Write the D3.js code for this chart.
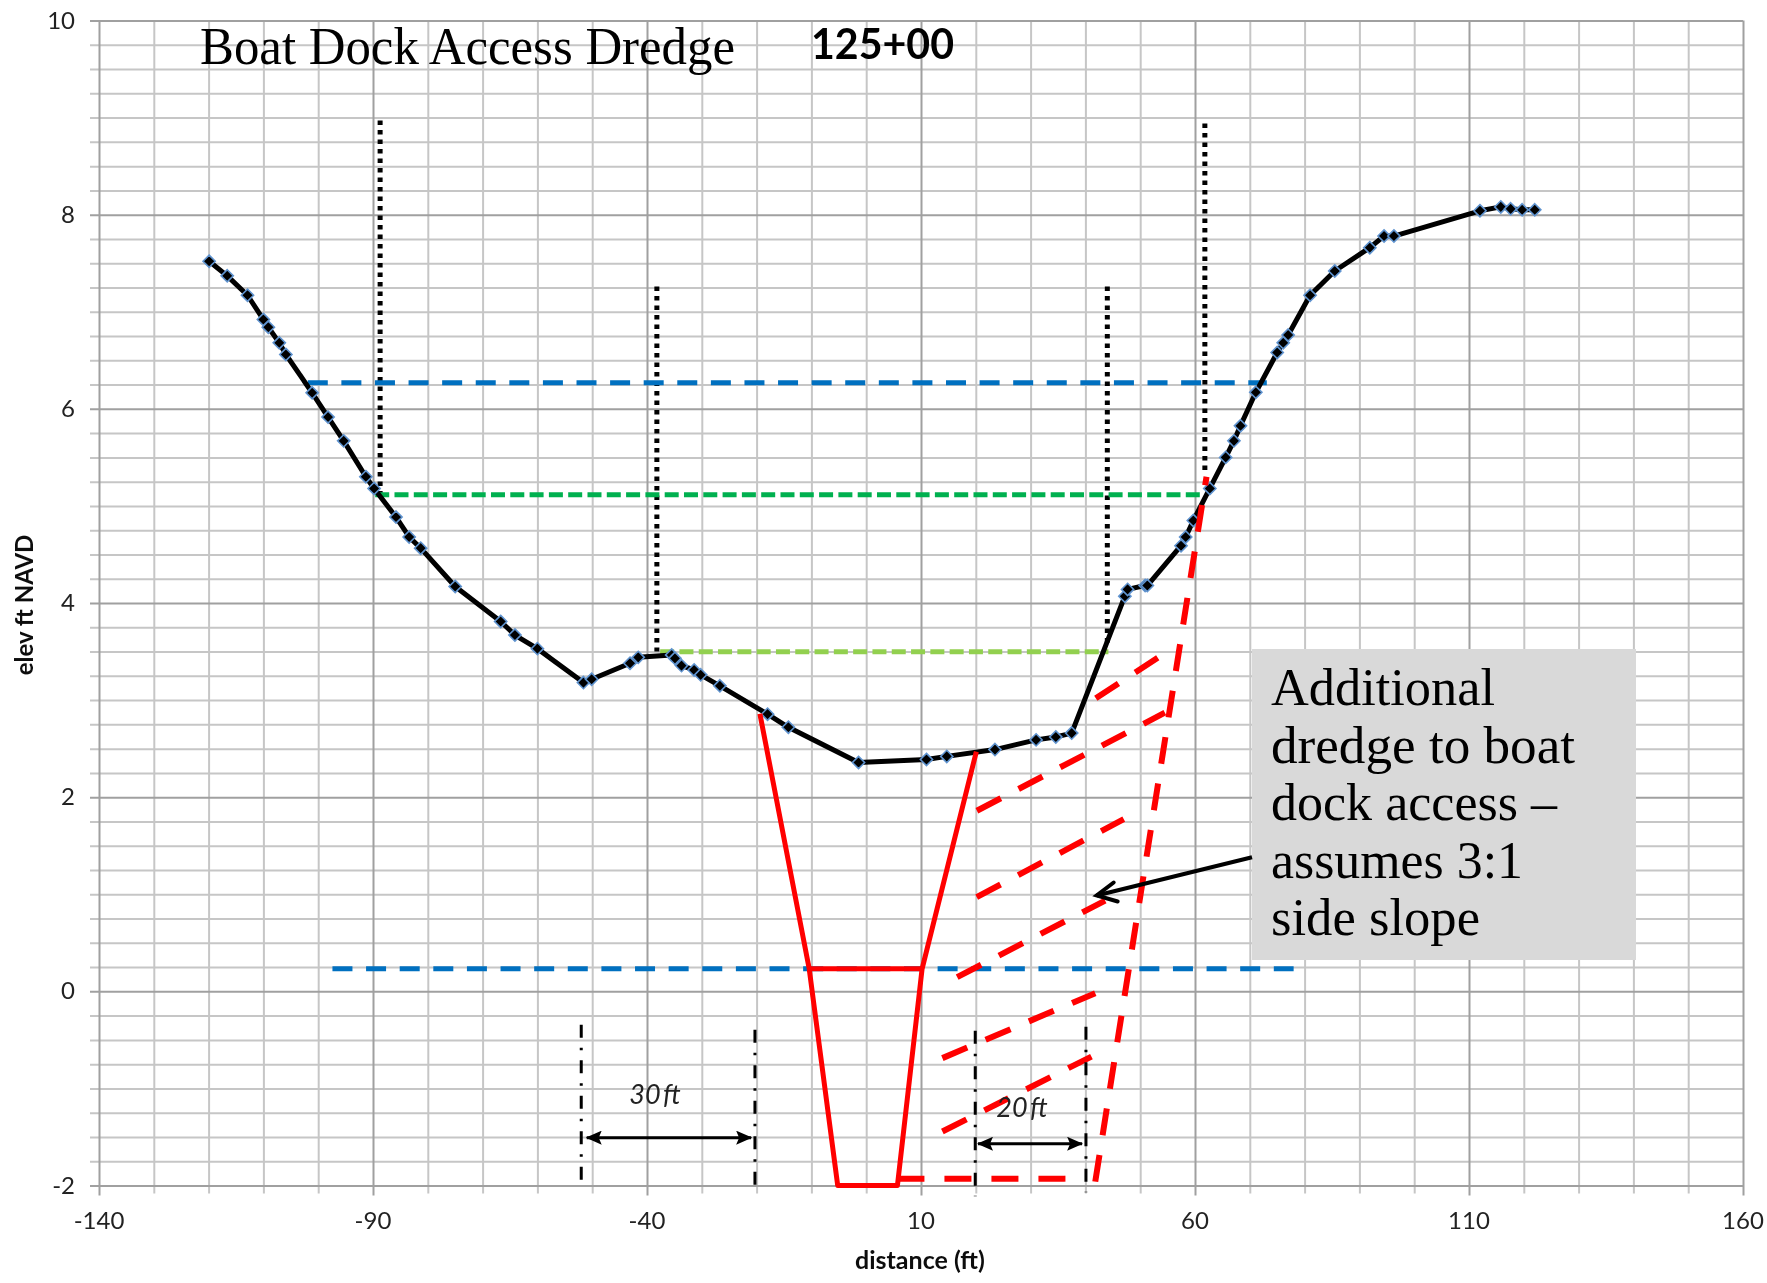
<!DOCTYPE html>
<html><head><meta charset="utf-8">
<script src="https://cdn.jsdelivr.net/npm/d3@7"></script>
<style>html,body{margin:0;padding:0;background:#fff}svg{display:block}</style>
</head><body><svg id="c" width="1767" height="1283"></svg>
<script>
const xMajor=[-140,-90,-40,10,60,110,160];
const xMinor=[-130,-120,-110,-100,-80,-70,-60,-50,-30,-20,-10,0,20,30,40,50,70,80,90,100,120,130,140,150];
const yMajor=[-2,0,2,4,6,8,10];
const yMinor=[-1.75,-1.5,-1.25,-1,-.75,-.5,-.25,.25,.5,.75,1,1.25,1.5,1.75,2.25,2.5,2.75,3,3.25,3.5,3.75,4.25,4.5,4.75,5,5.25,5.5,5.75,6.25,6.5,6.75,7,7.25,7.5,7.75,8.25,8.5,8.75,9,9.25,9.5,9.75];
const profileX=[-119.9,-116.6,-112.9,-110,-109.1,-107.1,-105.9,-101.1,-98.2,-95.35,-91.3,-89.8,-85.8,-83.4,-81.3,-75,-66.7,-64.1,-60,-51.6,-50.1,-43.1,-41.6,-35.5,-34.9,-33.7,-31.4,-30.2,-26.7,-18,-14.2,-1.4,11,14.7,23.5,31,34.6,37.5,47.2,47.7,50.9,51.3,57.45,58.3,59.7,62.7,65.6,67.1,68.3,71.1,75,76.1,77,81,85.5,91.9,94.5,96.3,112,115.8,117.6,119.7,122];
const profileY=[7.52,7.37,7.17,6.92,6.84,6.68,6.56,6.165,5.915,5.67,5.3,5.18,4.885,4.68,4.565,4.17,3.81,3.67,3.53,3.18,3.215,3.38,3.44,3.465,3.43,3.355,3.31,3.26,3.147,2.855,2.72,2.357,2.388,2.42,2.49,2.59,2.62,2.66,4.07,4.14,4.18,4.18,4.59,4.68,4.85,5.18,5.5,5.67,5.825,6.17,6.58,6.68,6.76,7.17,7.42,7.66,7.78,7.78,8.04,8.08,8.06,8.05,8.05];
const channelX=[-19.4,-10.4,-5.2,5.7,10.2,20.1];
const channelY=[2.86,0.232,-2,-2,0.232,2.47];
const channelFlatX=[-10.4,10.2], channelFlatY=[0.232,0.232];
const upperBlueX=[-101.9,73.1], upperBlueY=[6.268,6.268];
const lowerBlueX=[-97.4,78], lowerBlueY=[0.232,0.232];
const greenX=[-89.6,61.8], greenY=[5.114,5.114];
const limeX=[-37.6,44.2], limeY=[3.497,3.497];
const dottedLines=[[-88.7,8.97,5.12],[-38.2,7.26,3.5],[44,7.26,3.55],[61.8,8.94,5.32]];
const dashedRed=[[5.7,-1.93,36.6,-1.93],[41.8,-1.96,62.1,5.3],[41.9,3.02,53.2,3.435],[20.2,1.86,54.5,2.87],[20.16,.97,47,1.774],[16.6,.146,43.6,.935],[13.9,-.688,41.8,-.019],[13.9,-1.444,41.1,-.672]];
const dimensionLines=[[-52,-.345,-2.04],[-20.3,-.395,-2.09],[19.9,-.405,-2.11],[40.1,-.365,-2.07]];
const spanArrows=[[-51,-21,-1.507],[20.4,39.4,-1.57]];
const calloutLines=["Additional","dredge to boat","dock access –","assumes 3:1","side slope"];
const calloutTip=[42.06,0.987];

const x=d3.scaleLinear().domain([-140,160]).range([99,1743]);
const y=d3.scaleLinear().domain([-2,10]).range([1185.5,20.5]);
const svg=d3.select("#c");
const defs=svg.append("defs");
const blur=defs.append("filter").attr("id","soft").attr("x","-2%").attr("y","-2%").attr("width","104%").attr("height","104%");
blur.append("feGaussianBlur").attr("stdDeviation",0.45);
defs.append("marker").attr("id","solidHead").attr("viewBox","0 0 16 14").attr("refX",15).attr("refY",7)
 .attr("markerWidth",16).attr("markerHeight",14).attr("markerUnits","userSpaceOnUse").attr("orient","auto-start-reverse")
 .append("path").attr("d","M0,0L16,7L0,14L3,7Z").attr("fill","#000");

const root=svg.append("g").attr("filter","url(#soft)");
const sans="Lato, 'Open Sans', sans-serif", serif="'Liberation Serif', serif";
function vgrid(vals,color,w){
 const g=root.append("g").attr("transform",`translate(0,${y(-2)})`).call(d3.axisBottom(x).tickValues(vals).tickFormat(""));
 g.select(".domain").remove();
 g.selectAll("line").attr("y1",color==="#a0a0a0"?10:8).attr("y2",y(10)-y(-2)).attr("stroke",color).attr("stroke-width",w);
}
function hgrid(vals,color,w){
 const g=root.append("g").attr("transform",`translate(${x(-140)},0)`).call(d3.axisLeft(y).tickValues(vals).tickFormat(""));
 g.select(".domain").remove();
 g.selectAll("line").attr("x1",-9).attr("x2",x(160)-x(-140)).attr("stroke",color).attr("stroke-width",w);
}
vgrid(xMinor,"#c6c6c6",2); hgrid(yMinor,"#c6c6c6",2);
hgrid(yMajor,"#a0a0a0",2); vgrid(xMajor,"#a0a0a0",2);

const ln=d3.line().x(d=>x(d[0])).y(d=>y(d[1]));
const pair=(a,b)=>a.map((v,i)=>[v,b[i]]);
function path(pts,color,w,dash,cap){
 return root.append("path").attr("d",ln(pts)).attr("fill","none").attr("stroke",color).attr("stroke-width",w)
  .attr("stroke-dasharray",dash||null).attr("stroke-linecap",cap||"butt").attr("stroke-linejoin","round");
}
root.append("g").selectAll("line").data(dottedLines).join("line")
 .attr("x1",d=>x(d[0])).attr("x2",d=>x(d[0])).attr("y1",d=>y(d[1])).attr("y2",d=>y(d[2]))
 .attr("stroke","#000").attr("stroke-width",5).attr("stroke-dasharray","4.5 5");
path(pair(upperBlueX,upperBlueY),"#0070c0",5,"20 13.59");
path(pair(lowerBlueX,lowerBlueY),"#0070c0",5,"20 13.62");
path(pair(greenX,greenY),"#00b050",5,"14 5.3");
path(pair(limeX,limeY),"#92d050",5,"14 5.3");
path(pair(profileX,profileY),"#000",5);
root.append("g").selectAll("path").data(pair(profileX,profileY)).join("path")
 .attr("transform",d=>`translate(${x(d[0])},${y(d[1])})`)
 .attr("d",d3.symbol(d3.symbolDiamond2,95))
 .attr("fill","#000").attr("stroke","#5f93cf").attr("stroke-width",1.6);
path(pair(channelX,channelY),"#ff0000",5);
path(pair(channelFlatX,channelFlatY),"#ff0000",5);
root.append("g").selectAll("path").data(dashedRed).join("path")
 .attr("d",d=>ln([[d[0],d[1]],[d[2],d[3]]])).attr("fill","none").attr("stroke","#ff0000").attr("stroke-width",6).attr("stroke-dasharray","27 20");
root.append("g").selectAll("line").data(dimensionLines).join("line")
 .attr("x1",d=>x(d[0])).attr("x2",d=>x(d[0])).attr("y1",d=>y(d[1])).attr("y2",d=>y(d[2]))
 .attr("stroke","#000").attr("stroke-width",3).attr("stroke-dasharray","13 10 2.5 10");
root.append("g").selectAll("line").data(spanArrows).join("line")
 .attr("x1",d=>x(d[0])).attr("x2",d=>x(d[1])).attr("y1",d=>y(d[2])).attr("y2",d=>y(d[2]))
 .attr("stroke","#000").attr("stroke-width",3)
 .attr("marker-start","url(#solidHead)").attr("marker-end","url(#solidHead)");

// callout box
const boxL=1252, boxT=649, boxR=1636, boxB=960;
root.append("rect").attr("x",boxL).attr("y",boxT).attr("width",boxR-boxL).attr("height",boxB-boxT).attr("fill","#d9d9d9");
const lineWidths=[224,304,286,252,209];
root.append("g").selectAll("text").data(calloutLines).join("text")
 .attr("x",1271).attr("y",(d,i)=>705+i*57.5)
 .attr("textLength",(d,i)=>lineWidths[i]).attr("lengthAdjust","spacingAndGlyphs")
 .attr("font-family",serif).attr("font-size",52).attr("fill","#000").text(d=>d);
// callout arrow
const tipX=x(calloutTip[0]), tipY=y(calloutTip[1]);
root.append("path").attr("d",`M1252,857.3L${tipX},${tipY}`).attr("stroke","#000").attr("stroke-width",4).attr("fill","none");
root.append("path").attr("d",`M${tipX+17},${tipY-13}L${tipX},${tipY}L${tipX+21},${tipY+6}`).attr("stroke","#000").attr("stroke-width",4).attr("fill","none").attr("stroke-linecap","round");

// texts
root.append("text").attr("x",200).attr("y",64).attr("font-family",serif).attr("font-size",52).attr("textLength",535).attr("lengthAdjust","spacingAndGlyphs").attr("fill","#000").text("Boat Dock Access Dredge");
root.append("text").attr("x",811).attr("y",59).attr("font-family",sans).attr("font-weight",700).attr("font-size",42).attr("textLength",143).attr("lengthAdjust","spacingAndGlyphs").attr("fill","#000").text("125+00");
root.append("g").selectAll("text").data(xMajor).join("text")
 .attr("x",d=>x(d)).attr("y",1229).attr("text-anchor","middle").attr("font-family",sans).attr("font-size",24).attr("fill","#222").text(d=>d);
root.append("g").selectAll("text").data(yMajor).join("text")
 .attr("x",75).attr("y",d=>y(d)+8).attr("text-anchor","end").attr("font-family",sans).attr("font-size",24).attr("fill","#222").text(d=>d);
root.append("text").attr("x",920).attr("y",1269).attr("text-anchor","middle").attr("font-family",sans).attr("font-weight",700).attr("font-size",25).attr("fill","#111").text("distance (ft)");
root.append("text").attr("transform","translate(33,605) rotate(-90)").attr("text-anchor","middle").attr("font-family",sans).attr("font-weight",700).attr("font-size",24).attr("fill","#111").text("elev ft NAVD");
root.append("text").attr("x",655).attr("y",1104).attr("text-anchor","middle").attr("font-family",sans).attr("font-style","italic").attr("font-size",27).attr("word-spacing",-4).attr("fill","#222").text("30 ft");
root.append("text").attr("x",1022).attr("y",1117).attr("text-anchor","middle").attr("font-family",sans).attr("font-style","italic").attr("font-size",27).attr("word-spacing",-4).attr("fill","#222").text("20 ft");
</script></body></html>
